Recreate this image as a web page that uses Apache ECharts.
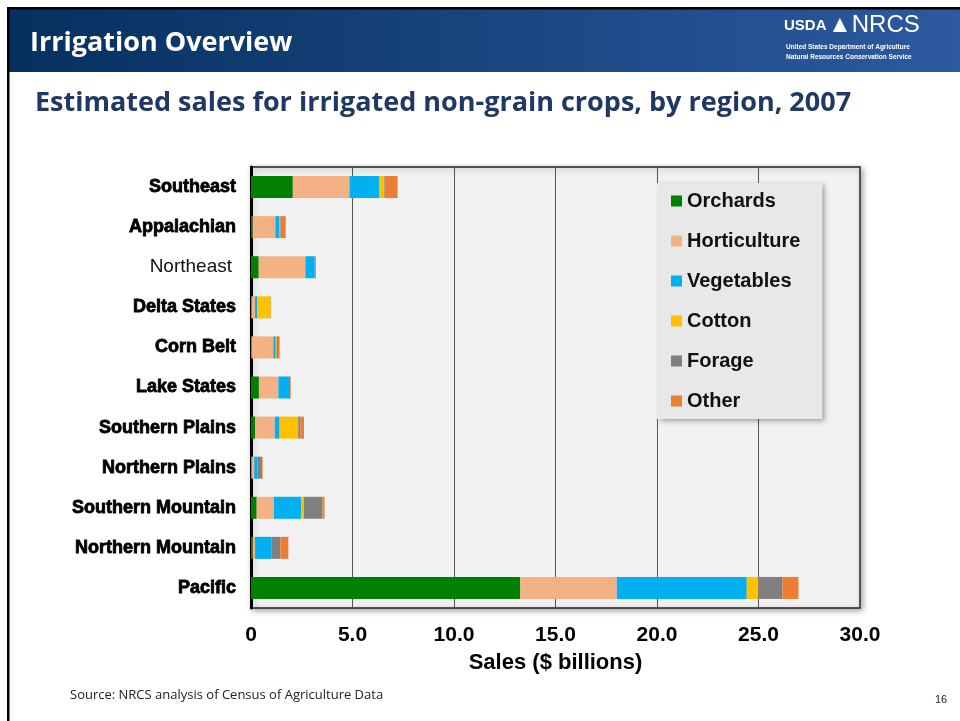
<!DOCTYPE html>
<html>
<head>
<meta charset="utf-8">
<script src="https://cdn.jsdelivr.net/npm/echarts@6/dist/echarts.min.js"></script>
<style>
  html, body { margin: 0; padding: 0; background: #fff; }
  #chart { width: 960px; height: 721px; }
</style>
</head>
<body>
<div id="chart"></div>
<script>
// regions, top to bottom
const regions = ['Southeast', 'Appalachian', 'Northeast', 'Delta States', 'Corn Belt', 'Lake States',
  'Southern Plains', 'Northern Plains', 'Southern Mountain', 'Northern Mountain', 'Pacific']

// sales, $ billions
const orchards     = [2.06, 0.08, 0.38, 0.02, 0.02, 0.39, 0.20, 0.02, 0.28, 0.08, 13.27]
const horticulture = [2.79, 1.12, 2.30, 0.18, 1.08, 0.96, 0.97, 0.14, 0.85, 0.12, 4.75]
const vegetables   = [1.48, 0.21, 0.46, 0.11, 0.12, 0.57, 0.24, 0.17, 1.34, 0.82, 6.40]
const cotton       = [0.23, 0.02, 0.00, 0.66, 0.05, 0.00, 0.92, 0.00, 0.13, 0.00, 0.58]
const forage       = [0.03, 0.03, 0.02, 0.00, 0.06, 0.01, 0.10, 0.21, 0.92, 0.43, 1.18]
const other        = [0.63, 0.25, 0.04, 0.02, 0.08, 0.03, 0.18, 0.03, 0.10, 0.39, 0.79]

const crops = [
  { name: 'Orchards', data: orchards, color: '#008000' },
  { name: 'Horticulture', data: horticulture, color: '#f4b183' },
  { name: 'Vegetables', data: vegetables, color: '#00b0f0' },
  { name: 'Cotton', data: cotton, color: '#ffc000' },
  { name: 'Forage', data: forage, color: '#808080' },
  { name: 'Other', data: other, color: '#ed7d31' },
]

const chart = echarts.init(document.getElementById('chart'))

chart.setOption({
  animation: false,
  backgroundColor: '#fff',
  textStyle: { fontFamily: 'Liberation Sans, Arial, sans-serif' },
  graphic: [
    // slide header band
    {
      type: 'rect', shape: { x: 9, y: 9, width: 951, height: 63 },
      style: {
        fill: new echarts.graphic.LinearGradient(0, 0, 1, 0, [
          { offset: 0, color: '#05305f' },
          { offset: 1, color: '#2d5aa0' },
        ]),
      },
    },
    { type: 'rect', shape: { x: 7, y: 7, width: 953, height: 2.5 }, style: { fill: '#000' } },
    { type: 'rect', shape: { x: 7, y: 7, width: 2.5, height: 714 }, style: { fill: '#000' } },
    {
      type: 'text', left: 30, top: 30,
      style: { text: 'Irrigation Overview', fill: '#fff', font: 'bold 27px "Open Sans", sans-serif' },
    },
    // logo, approximated as text
    {
      type: 'text', left: 784, top: 18,
      style: { text: 'USDA', fill: '#fff', font: 'bold 15px "Liberation Sans Narrow", sans-serif' },
    },
    {
      type: 'text', left: 828, top: 13,
      style: { text: '\u25B2NRCS', fill: '#fff', font: '24px "Liberation Sans Narrow", sans-serif' },
    },
    {
      type: 'text', left: 786, top: 44,
      style: { text: 'United States Department of Agriculture', fill: '#fff', font: 'bold 6.5px "Liberation Sans Narrow", sans-serif' },
    },
    {
      type: 'text', left: 786, top: 54,
      style: { text: 'Natural Resources Conservation Service', fill: '#fff', font: 'bold 6.5px "Liberation Sans Narrow", sans-serif' },
    },
    {
      type: 'text', left: 35, top: 90,
      style: {
        text: 'Estimated sales for irrigated non-grain crops, by region, 2007',
        fill: '#1f3864', font: 'bold 27px "Open Sans", sans-serif',
      },
    },
    {
      type: 'text', left: 70, top: 689,
      style: { text: 'Source: NRCS analysis of Census of Agriculture Data', fill: '#222', font: '13px "Open Sans", sans-serif' },
    },
    {
      type: 'text', left: 935, top: 694,
      style: { text: '16', fill: '#222', font: '11px "Liberation Sans", sans-serif' },
    },
  ],
  grid: {
    left: 251, right: 100, top: 167, bottom: 113,
    show: true,
    backgroundColor: '#f2f2f2',
    borderColor: '#222',
    borderWidth: 1.5,
    shadowColor: 'rgba(0,0,0,0.35)',
    shadowBlur: 6,
    shadowOffsetX: 2,
    shadowOffsetY: 2,
  },
  legend: {
    orient: 'vertical',
    left: 657, top: 183,
    padding: [8, 22, 8, 14],
    backgroundColor: '#e8e8e8',
    shadowColor: 'rgba(0,0,0,0.35)',
    shadowBlur: 5,
    shadowOffsetX: 3,
    shadowOffsetY: 2,
    icon: 'rect',
    itemWidth: 11,
    itemHeight: 11,
    itemGap: 20,
    itemStyle: { borderWidth: 0 },
    textStyle: { fontSize: 20, fontWeight: 'bold', color: '#111' },
    data: crops.map(c => c.name),
  },
  xAxis: {
    type: 'value',
    min: 0, max: 30, interval: 5,
    name: 'Sales ($ billions)',
    nameLocation: 'middle',
    nameGap: 44,
    nameTextStyle: { fontSize: 22, fontWeight: 'bold', color: '#000' },
    axisLine: { show: false },
    axisTick: { show: false },
    axisLabel: {
      margin: 17, fontSize: 21, fontWeight: 'bold', color: '#000',
      formatter: v => (v === 0 ? '0' : v.toFixed(1)),
    },
    splitLine: { lineStyle: { color: '#555', width: 1 } },
  },
  yAxis: {
    type: 'category',
    inverse: true,
    data: regions,
    axisLine: { show: true, lineStyle: { color: '#000', width: 3 } },
    axisTick: { show: false },
    axisLabel: {
      margin: 15,
      fontSize: 18,
      fontWeight: 'bold',
      color: '#000',
      textBorderColor: '#000',
      textBorderWidth: 0.8,
      formatter: v => (v === 'Northeast' ? '{n|' + v + '}' : v),
      rich: { n: { fontSize: 19, fontWeight: 'normal', color: '#111', textBorderWidth: 0, padding: [0, 4, 0, 0] } },
    },
  },
  series: crops.map(c => ({
    name: c.name,
    type: 'bar',
    stack: 'sales',
    barWidth: 22,
    data: c.data,
    itemStyle: { color: c.color },
  })),
})
</script>
</body>
</html>
